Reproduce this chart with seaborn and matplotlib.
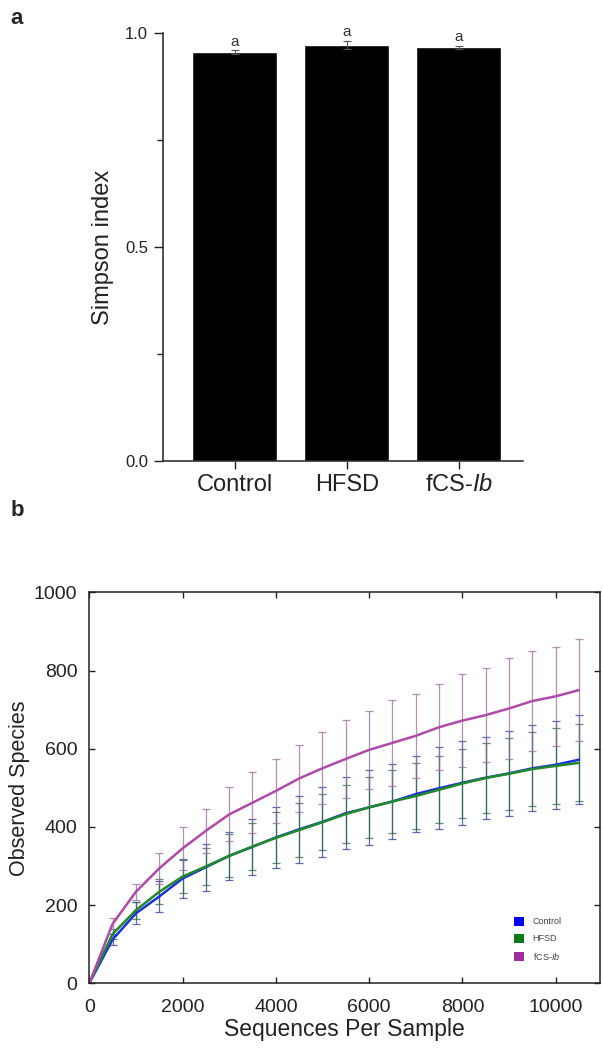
import numpy as np
import pandas as pd
import matplotlib
matplotlib.use("Agg")
import matplotlib.pyplot as plt
import seaborn as sns
from matplotlib.patches import Patch

# panel a: Simpson index
groups = ["Control", "HFSD", "fCS-Ib"]
group_labels = ["Control", "HFSD", "fCS-$\\mathit{Ib}$"]
simpson = [0.956, 0.973, 0.967]
simpson_err = [0.004, 0.009, 0.004]
letters = ["a", "a", "a"]

# panel b: rarefaction curves
seqs = [0, 500, 1000, 1500, 2000, 2500, 3000, 3500, 4000, 4500, 5000, 5500,
        6000, 6500, 7000, 7500, 8000, 8500, 9000, 9500, 10000, 10500]
control = [0, 112, 179, 222, 268, 297, 326, 349, 373, 394, 413, 435,
           450, 465, 484, 499, 513, 526, 537, 550, 559, 572]
control_err = [0, 15, 28, 40, 50, 60, 62, 72, 78, 85, 90, 92,
               95, 96, 98, 105, 107, 105, 108, 110, 112, 113]
hfsd = [0, 126, 187, 234, 273, 299, 326, 350, 372, 392, 412, 433,
        450, 465, 479, 495, 511, 525, 536, 548, 556, 564]
hfsd_err = [0, 12, 22, 32, 42, 48, 55, 60, 65, 70, 72, 75,
            78, 80, 84, 86, 88, 90, 92, 95, 97, 98]
fcs = [0, 152, 234, 294, 345, 390, 432, 462, 492, 524, 550, 574,
       597, 615, 633, 655, 672, 686, 703, 722, 734, 750]
fcs_err = [0, 14, 21, 40, 54, 57, 69, 78, 83, 86, 92, 99,
           100, 110, 108, 110, 119, 120, 128, 129, 127, 130]

line_colors = {"Control": "#1f2fe0", "HFSD": "#1f8a2a", "fCS-Ib": "#b04aaa"}
bar_colors = {"Control": "#2a3a9a", "HFSD": "#2a6a4a", "fCS-Ib": "#9a6a9a"}
patch_colors = {"Control": "#0000ff", "HFSD": "#0a7a1a", "fCS-Ib": "#a02ca0"}

sns.set_style("ticks")
plt.rcParams["font.family"] = ["Liberation Sans", "DejaVu Sans"]
plt.rcParams["mathtext.fontset"] = "custom"
plt.rcParams["mathtext.rm"] = "Liberation Sans"
plt.rcParams["mathtext.it"] = "Liberation Sans:italic"

fig = plt.figure(figsize=(6.03, 10.48), dpi=100)

# ---------- panel a ----------
ax1 = fig.add_axes([0.2698, 0.5601, 0.8668 - 0.2698, 0.9682 - 0.5601])
df_a = pd.DataFrame({"group": groups, "simpson": simpson})
sns.barplot(data=df_a, x="group", y="simpson", color="black", width=0.76,
            errorbar=None, ax=ax1, saturation=1)
ax1.errorbar(range(len(groups)), simpson, yerr=simpson_err, fmt="none",
             ecolor="#555555", elinewidth=0.8, capsize=3, capthick=0.8)
for i, (v, e, t) in enumerate(zip(simpson, simpson_err, letters)):
    ax1.text(i, v + e + 0.004, t, ha="center", va="bottom", fontsize=11, color="#333333")
ax1.set_ylim(0, 1.0)
ax1.set_xlim(-0.645, 2.57)
ax1.set_yticks([0, 0.5, 1.0])
ax1.set_yticklabels(["0.0", "0.5", "1.0"])
ax1.set_yticks([0.25, 0.75], minor=True)
ax1.set_xticks(range(len(groups)))
ax1.set_xticklabels(group_labels)
ax1.tick_params(axis="y", which="major", direction="out", length=6.5, width=1, pad=4, labelsize=12, colors="#222222")
ax1.tick_params(axis="y", which="minor", direction="out", length=4, width=1)
ax1.tick_params(axis="x", direction="out", length=6, width=1, pad=3, labelsize=17, colors="#222222")
ax1.set_xlabel("")
ax1.set_ylabel("Simpson index", fontsize=17, labelpad=8, color="#222222")
sns.despine(ax=ax1)
for s in ["left", "bottom"]:
    ax1.spines[s].set_linewidth(1.1)
    ax1.spines[s].set_color("#222222")

# ---------- panel b ----------
ax2 = fig.add_axes([0.148, 0.0617, 0.995 - 0.148, 0.4348 - 0.0617])
df_b = pd.concat([
    pd.DataFrame({"seqs": seqs, "species": control, "err": control_err, "group": "Control"}),
    pd.DataFrame({"seqs": seqs, "species": hfsd, "err": hfsd_err, "group": "HFSD"}),
    pd.DataFrame({"seqs": seqs, "species": fcs, "err": fcs_err, "group": "fCS-Ib"}),
])
for g, sub in df_b.groupby("group", sort=False):
    sub = sub[sub["seqs"] > 0]
    ax2.errorbar(sub["seqs"], sub["species"], yerr=sub["err"], fmt="none",
                 ecolor=bar_colors[g], alpha=0.75, elinewidth=0.9, capsize=3, capthick=0.9)
sns.lineplot(data=df_b, x="seqs", y="species", hue="group", palette=line_colors,
             linewidth=1.8, legend=False, ax=ax2)

ax2.set_xlim(0, 10950)
ax2.set_ylim(0, 1000)
ax2.set_xticks([0, 2000, 4000, 6000, 8000, 10000])
ax2.set_yticks([0, 200, 400, 600, 800, 1000])
ax2.tick_params(direction="in", length=4, width=1, top=True, right=True,
                labelsize=14, colors="#222222")
ax2.tick_params(axis="y", pad=8.5)
ax2.tick_params(axis="x", pad=11)
ax2.set_xlabel("Sequences Per Sample", fontsize=16.5, labelpad=2, color="#222222")
ax2.set_ylabel("Observed Species", fontsize=15.5, labelpad=3, color="#222222")
for s in ax2.spines.values():
    s.set_linewidth(1.1)
    s.set_color("#222222")

handles = [Patch(facecolor=patch_colors[g], edgecolor="none") for g in groups]
leg = ax2.legend(handles, ["Control", "HFSD", "fCS-$\\mathit{Ib}$"], loc="lower left",
                 bbox_to_anchor=(0.815, 0.035), frameon=False, fontsize=6.5,
                 handlelength=1.2, handleheight=1.2, labelspacing=0.8, handletextpad=0.9)
for t in leg.get_texts():
    t.set_color("#444444")

fig.text(0.018, 0.982, "a", fontsize=16, fontweight="bold", ha="left", va="center")
fig.text(0.018, 0.513, "b", fontsize=16, fontweight="bold", ha="left", va="center")

fig.savefig("out.png", dpi=100)
